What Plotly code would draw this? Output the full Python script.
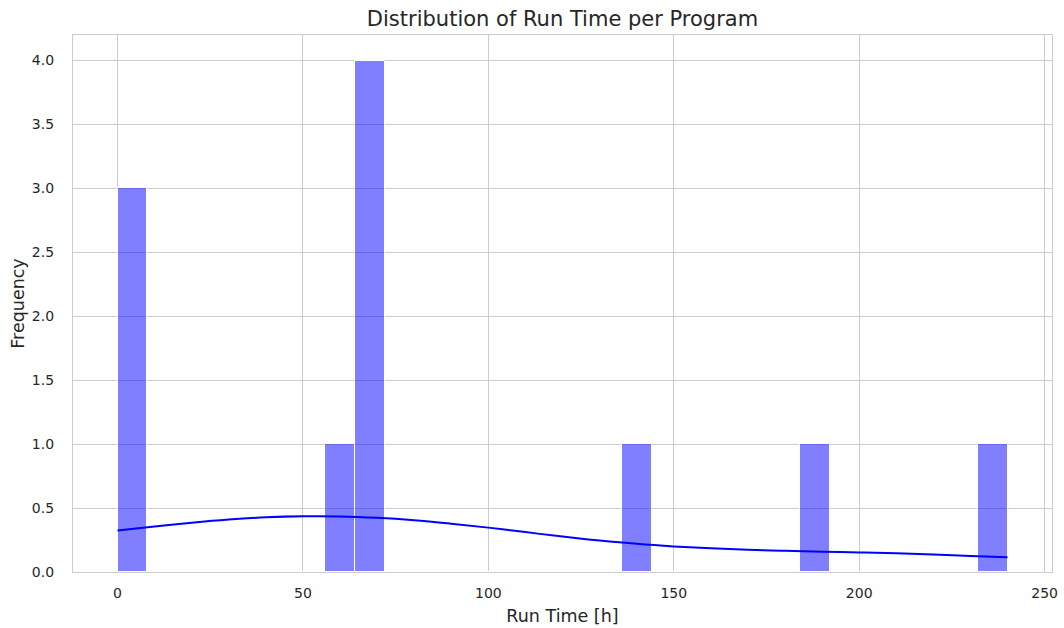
import plotly.graph_objects as go

# Histogram: 30 bins of width 8 from 0 to 240
bin_left = [0, 8, 16, 24, 32, 40, 48, 56, 64, 72, 80, 88, 96, 104, 112,
            120, 128, 136, 144, 152, 160, 168, 176, 184, 192, 200, 208, 216, 224, 232]
counts = [3, 0, 0, 0, 0, 0, 0, 1, 4, 0, 0, 0, 0, 0, 0,
          0, 0, 1, 0, 0, 0, 0, 0, 1, 0, 0, 0, 0, 0, 1]
bin_width = 8

# KDE curve
kde_x = [0, 10, 20, 30, 40, 50, 60, 70, 80, 90, 100, 110, 120, 130, 140,
         150, 160, 170, 180, 190, 200, 210, 220, 230, 240]
kde_y = [0.324, 0.355, 0.385, 0.410, 0.428, 0.436, 0.435, 0.424, 0.405, 0.378,
         0.347, 0.312, 0.277, 0.246, 0.220, 0.200, 0.185, 0.174, 0.166, 0.159,
         0.153, 0.146, 0.137, 0.126, 0.115]

x_ticks = [0, 50, 100, 150, 200, 250]
y_ticks = [0.0, 0.5, 1.0, 1.5, 2.0, 2.5, 3.0, 3.5, 4.0]

font = "DejaVu Sans"
txt = "#262626"
grid = "#cccccc"

fig = go.Figure()
fig.add_trace(go.Bar(
    x=[b + bin_width / 2 for b in bin_left], y=counts, width=bin_width,
    marker=dict(color="rgba(0,0,255,0.5)", line=dict(color="white", width=1)),
    showlegend=False, hoverinfo="x+y"))
fig.add_trace(go.Scatter(
    x=kde_x, y=kde_y, mode="lines", line=dict(color="blue", width=2, shape="spline"),
    showlegend=False))

fig.update_layout(
    width=1064, height=628,
    margin=dict(l=73, r=12, t=35, b=56, autoexpand=False),
    paper_bgcolor="white", plot_bgcolor="white",
    font=dict(family=font, color=txt, size=14),
    bargap=0,
    title=dict(text="Distribution of Run Time per Program", x=0.5, xref="paper",
               y=1 - 19 / 628, yref="container", yanchor="middle",
               font=dict(size=21, color=txt)),
)
fig.update_xaxes(
    range=[-12, 252], tickvals=x_ticks, ticktext=[str(v) for v in x_ticks],
    showgrid=True, gridcolor=grid, gridwidth=1.2,
    showline=True, linecolor=grid, linewidth=1.3, mirror=True,
    zeroline=False, ticks="", ticklabelstandoff=8, automargin=False,
    title=dict(text="Run Time [h]", font=dict(size=17.5, color=txt), standoff=9),
    tickfont=dict(size=14, color=txt))
fig.update_yaxes(
    range=[0, 4.2], tickvals=y_ticks, ticktext=[f"{v:.1f}" for v in y_ticks],
    showgrid=True, gridcolor=grid, gridwidth=1.2,
    showline=True, linecolor=grid, linewidth=1.3, mirror=True,
    zeroline=False, ticks="", ticklabelstandoff=15, automargin=False,
    title=dict(text="Frequency", font=dict(size=17.5, color=txt), standoff=2),
    tickfont=dict(size=14, color=txt))

fig.write_html(
    "out.html",
    config={"displayModeBar": False},
    post_script=("document.documentElement.style.margin='0px';"
                 "document.body.style.margin='0px';"
                 "document.body.style.overflow='hidden';"
                 "document.documentElement.style.overflow='hidden';"))
